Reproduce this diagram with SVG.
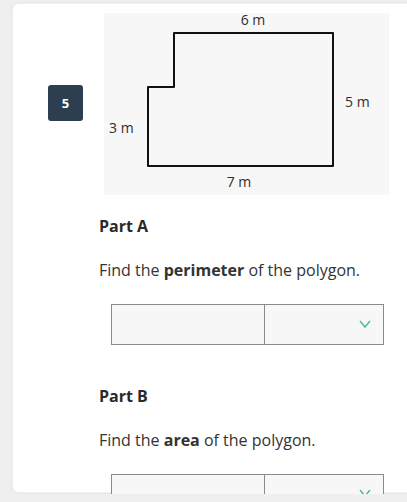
<svg xmlns="http://www.w3.org/2000/svg" width="407" height="502" viewBox="0 0 407 502">
<style>
text{font-family:"Open Sans","Noto Sans","Liberation Sans",sans-serif;fill:#333}
.lbl{font-size:14px;fill:#2e2e2e}
.hd{font-size:16px;font-weight:700;fill:#2a2a2a}
.body{font-size:16px;fill:#333}
.inp{fill:#f7f7f7;stroke:#8a8a8a;stroke-width:1}
.chev{fill:none;stroke:#4dbb9f;stroke-width:1.5}
</style>
<rect x="0" y="0" width="407" height="502" fill="#efefef"/>
<rect id="card" x="12" y="3" width="420" height="490" rx="7" fill="#ffffff" stroke="#e2e2e2" stroke-width="1"/>
<g id="figure">
<rect x="104" y="13" width="285" height="182" fill="#f7f7f7"/>
<path d="M174 33 H333 V166 H148 V87 H174 Z" fill="none" stroke="#111" stroke-width="2" stroke-linejoin="round"/>
<text class="lbl" x="253" y="25" text-anchor="middle">6 m</text>
<text class="lbl" x="345" y="107">5 m</text>
<text class="lbl" x="109" y="133">3 m</text>
<text class="lbl" x="239" y="187" text-anchor="middle">7 m</text>
</g>
<g id="badge">
<rect x="48" y="85" width="35" height="36" rx="3" fill="#2c3e50"/>
<text x="65.5" y="107.5" text-anchor="middle" style="font-size:13px;font-weight:700;fill:#fff">5</text>
</g>
<g id="partA">
<text class="hd" x="99" y="232">Part A</text>
<text class="body" x="99" y="276">Find the <tspan font-weight="700">perimeter</tspan> of the polygon.</text>
<rect class="inp" x="111.5" y="304.5" width="153" height="40"/>
<rect class="inp" x="264.5" y="304.5" width="119" height="40"/>
<path class="chev" d="M360 321 L365 327 L370 321"/>
</g>
<g id="partB">
<text class="hd" x="99" y="402">Part B</text>
<text class="body" x="99" y="446">Find the <tspan font-weight="700">area</tspan> of the polygon.</text>
<rect class="inp" x="111.5" y="474.5" width="153" height="40"/>
<rect class="inp" x="264.5" y="474.5" width="119" height="40"/>
<path class="chev" d="M360 490 L365 496 L370 490"/>
</g>
<rect x="0" y="494" width="407" height="8" fill="#efefef"/>
</svg>
